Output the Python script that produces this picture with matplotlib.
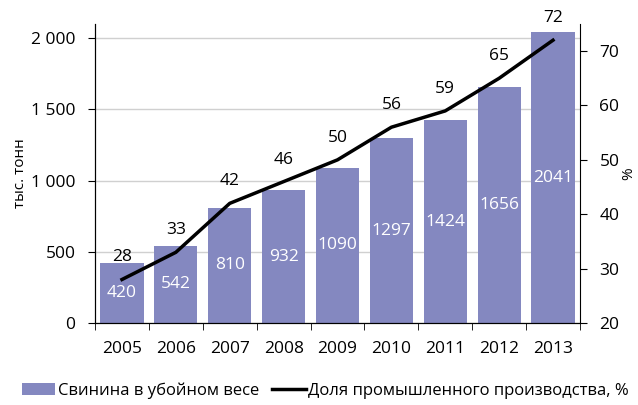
import numpy as np
import matplotlib.pyplot as plt
from matplotlib.ticker import FuncFormatter, MultipleLocator

plt.rcParams['font.family'] = ['Open Sans', 'DejaVu Sans']

years = ['2005', '2006', '2007', '2008', '2009', '2010', '2011', '2012', '2013']
pork = [420, 542, 810, 932, 1090, 1297, 1424, 1656, 2041]
share = [28, 33, 42, 46, 50, 56, 59, 65, 72]

bar_color = '#8488c0'
fs = 12.5

fig = plt.figure(figsize=(6.38, 4.05), dpi=100)
ax = fig.add_axes([0.149, 0.2025, 0.76, 0.7385])
x = np.arange(len(years))

ax.set_axisbelow(True)
ax.grid(axis='y', color='#d0d0d0', lw=1)
bars = ax.bar(x, pork, width=0.8, color=bar_color, label='Свинина в убойном весе')
for xi, v in zip(x, pork):
    ax.text(xi, v / 2, str(v), ha='center', va='center', color='white', fontsize=fs)

ax.set_xlim(-0.5, len(years) - 0.5)
ax.set_ylim(0, 2100)
ax.yaxis.set_major_locator(MultipleLocator(500))
ax.yaxis.set_major_formatter(FuncFormatter(lambda v, p: f'{int(v):,}'.replace(',', ' ')))
ax.set_xticks(x)
ax.set_xticklabels(years)
ax.set_xticks(np.arange(-0.5, len(years)), minor=True)
ax.tick_params(axis='x', which='major', length=0, pad=13, labelsize=fs)
ax.tick_params(axis='x', which='minor', length=5, direction='out')
ax.tick_params(axis='y', length=5, direction='out', pad=9, labelsize=fs)
ax.set_ylabel('тыс. тонн', fontsize=fs - 1.5, labelpad=2)
ax.spines['top'].set_visible(False)
ax.spines['right'].set_visible(False)

ax2 = ax.twinx()
line, = ax2.plot(x, share, color='black', lw=2.5, label='Доля промышленного производства, %')
for xi, v in zip(x, share):
    ax2.annotate(str(v), (xi, v), xytext=(0, 22), textcoords='offset pixels',
                 ha='center', va='center', fontsize=fs)
ax2.set_ylim(20, 75)
ax2.yaxis.set_major_locator(MultipleLocator(10))
ax2.tick_params(axis='y', length=5, direction='out', pad=9, labelsize=fs)
ax2.set_ylabel('%', fontsize=fs - 1.5, labelpad=1)
ax2.spines['top'].set_visible(False)

fig.legend(handles=[bars, line], loc='lower center', bbox_to_anchor=(0.51, -0.022),
           ncol=2, frameon=False, fontsize=fs - 0.5, handlelength=2.0,
           handletextpad=0.15, columnspacing=0.8)

fig.savefig('out.png', dpi=100)
